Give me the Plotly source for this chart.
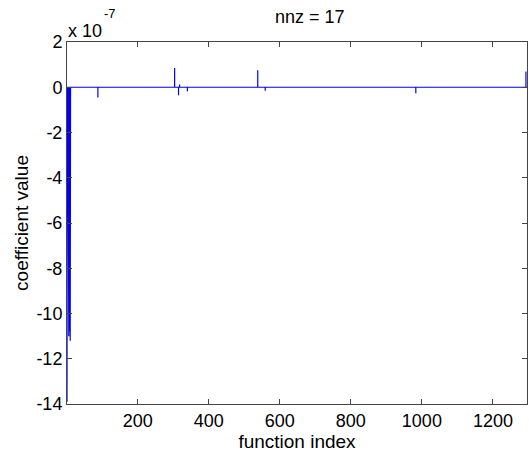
import plotly.graph_objects as go

# Data (values in units of 1e-7)
n_functions = 1296
nz_index = [1, 2, 4, 6, 7, 8, 10, 11, 88, 304, 315, 318, 340, 538, 559, 983, 1293]
nz_value = [-13.9, -11.1, -1.5, -11.0, -0.6, -10.8, -11.2, -0.3,
            -0.45, 0.85, -0.35, 0.12, -0.18, 0.75, -0.15, -0.27, 0.7]
x_ticks = [200, 400, 600, 800, 1000, 1200]
y_ticks = [2, 0, -2, -4, -6, -8, -10, -12, -14]

# coefficient vector drawn as a line: baseline with vertical excursions at nonzeros
xs, ys = [1], [0.0]
for i, v in zip(nz_index, nz_value):
    xs += [i, i, i]
    ys += [0.0, v, 0.0]
xs.append(n_functions)
ys.append(0.0)

FONT = "Liberation Sans, Arial, sans-serif"
L, R, T, B, W, H = 67, 2, 42, 48, 529, 452
PW, PH = W - L - R, H - T - B


def px(xp):
    return (xp - L) / PW


def py(yp):
    return 1 + (T - yp) / PH


fig = go.Figure(go.Scatter(x=xs, y=ys, mode="lines",
                           line=dict(color="#0000ff", width=1.2),
                           hoverinfo="skip"))

axis_common = dict(showgrid=False, zeroline=False, showline=True, automargin=False,
                   linecolor="#444444", linewidth=1, mirror="ticks",
                   ticks="inside", ticklen=5, tickcolor="#444444",
                   tickfont=dict(family=FONT, size=18, color="black"))

fig.update_xaxes(range=[1, n_functions], tickvals=x_ticks,
                 ticktext=[str(t) for t in x_ticks],
                 title=dict(text="function index", font=dict(family=FONT, size=19, color="black"),
                            standoff=0),
                 **axis_common)
fig.update_yaxes(range=[-14, 2], tickvals=y_ticks,
                 ticktext=[str(t) for t in y_ticks],
                 title=dict(text="coefficient value", font=dict(family=FONT, size=19, color="black"),
                            standoff=2),
                 **axis_common)

fig.add_annotation(text="nnz = 17", xref="paper", yref="paper", x=px(310), y=py(17),
                   xanchor="center", yanchor="middle", showarrow=False,
                   font=dict(family=FONT, size=18, color="black"))
fig.add_annotation(text="x 10", xref="paper", yref="paper", x=px(66), y=py(31),
                   xanchor="left", yanchor="middle", showarrow=False,
                   font=dict(family=FONT, size=18, color="black"))
fig.add_annotation(text="-7", xref="paper", yref="paper", x=px(102), y=py(14),
                   xanchor="left", yanchor="middle", showarrow=False,
                   font=dict(family=FONT, size=13, color="black"))

fig.update_layout(width=W, height=H, plot_bgcolor="white", paper_bgcolor="white",
                  margin=dict(l=L, r=R, t=T, b=B), showlegend=False)

fig.write_html("out.html", config={"displayModeBar": False},
               post_script="document.body.style.margin='0';document.body.style.overflow='hidden';")
